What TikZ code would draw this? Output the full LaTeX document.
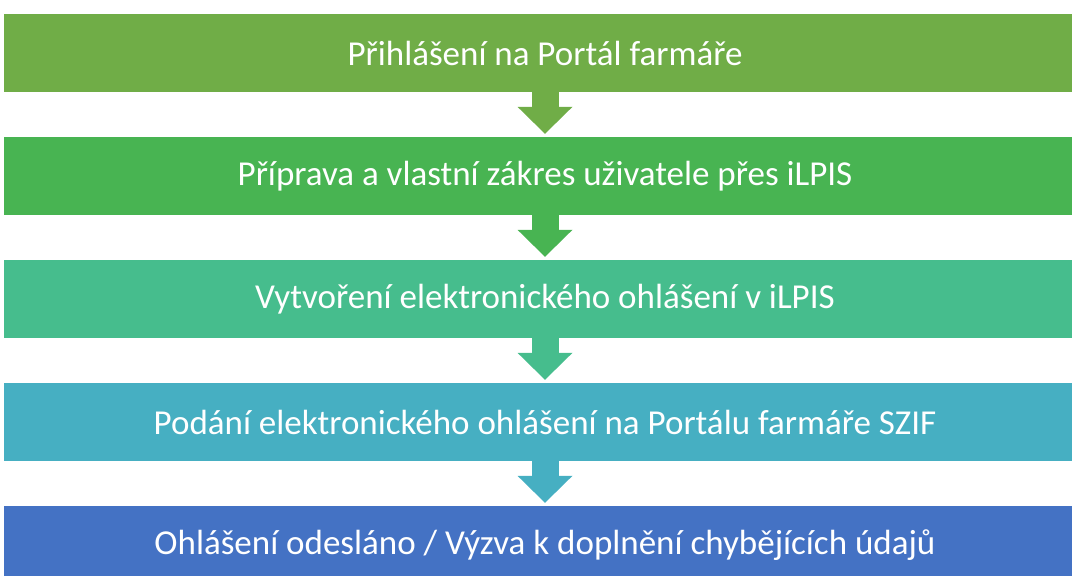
\documentclass[tikz,border=0pt]{standalone}
\usepackage{fontspec}
\setmainfont{Carlito}
\usetikzlibrary{arrows.meta}

\definecolor{krokA}{RGB}{112,173,71}
\definecolor{krokB}{RGB}{72,180,82}
\definecolor{krokC}{RGB}{70,189,141}
\definecolor{krokD}{RGB}{70,175,194}
\definecolor{krokE}{RGB}{68,114,196}

\tikzset{
  krok/.style={rectangle, minimum width=1082pt, minimum height=78pt, inner sep=0pt,
    text=white, font=\fontsize{35}{40}\selectfont},
  sipka/.style={line width=27pt, line cap=butt, shorten >=3pt,
    -{Triangle[width=55pt,length=27pt,line width=0pt]}}
}

\begin{document}
\begin{tikzpicture}[x=1pt,y=-1pt]
		\useasboundingbox (0,0) rectangle (1072,576);
		\node[krok, fill=krokA] (A) at (545,53) {Přihlášení na Portál farmáře};
		\node[krok, fill=krokB] (B) at (545,176) {Příprava a vlastní zákres uživatele přes iLPIS};
		\node[krok, fill=krokC] (C) at (545,299) {Vytvoření elektronického ohlášení v iLPIS};
		\node[krok, fill=krokD] (D) at (545,422) {Podání elektronického ohlášení na Portálu farmáře SZIF};
		\node[krok, fill=krokE] (E) at (545,545) {Ohlášení odesláno / Výzva k doplnění chybějících údajů};
		\path[sipka, color=krokA] (A) edge (B);
		\path[sipka, color=krokB] (B) edge (C);
		\path[sipka, color=krokC] (C) edge (D);
		\path[sipka, color=krokD] (D) edge (E);
	\end{tikzpicture}
\end{document}
